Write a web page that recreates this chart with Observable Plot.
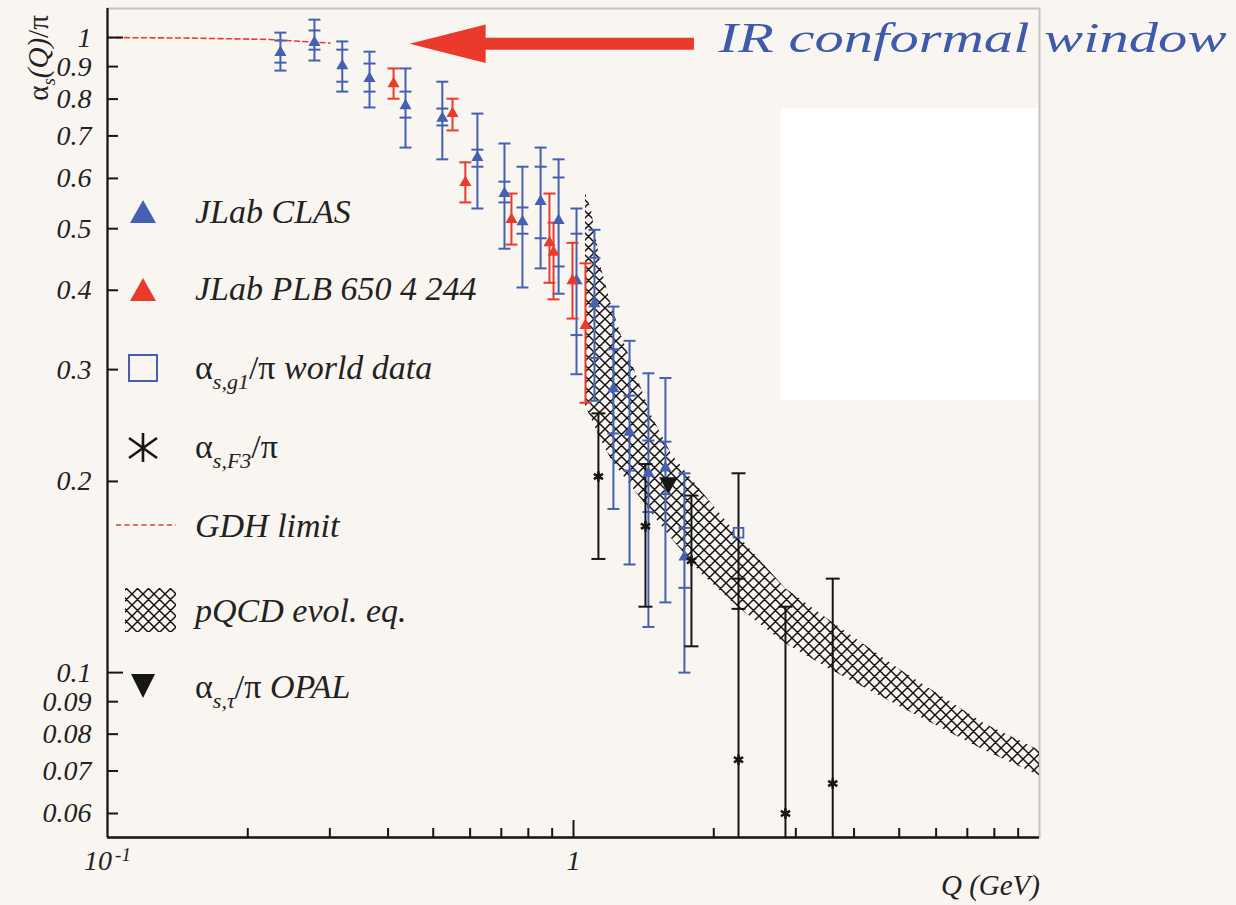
<!DOCTYPE html>
<html><head><meta charset="utf-8">
<script src="https://cdn.jsdelivr.net/npm/d3@7"></script>
<script src="https://cdn.jsdelivr.net/npm/@observablehq/plot@0.6"></script>
<style>
html,body{margin:0;padding:0;background:#f9f6f1;}
#wrap{position:relative;width:1236px;height:905px;overflow:hidden;}
</style></head>
<body><div id="wrap"></div>
<script>
// ---------- data ----------
// JLab CLAS (blue triangles): Q, value, outer error (hi/lo), inner error (hi/lo)
const clasQ   = [0.235,0.278,0.319,0.365,0.436,0.523,0.622,0.711,0.777,0.850,0.929,1.015,1.109,1.218,1.319,1.448,1.575,1.730];
const clasA   = [0.947,0.982,0.903,0.862,0.781,0.746,0.647,0.568,0.513,0.552,0.515,0.414,0.381,0.280,0.239,0.206,0.210,0.152];
const clasHi  = [1.018,1.067,0.986,0.950,0.894,0.852,0.759,0.681,0.626,0.671,0.643,0.538,0.498,0.377,0.333,0.296,0.291,0.206];
const clasLo  = [0.887,0.920,0.822,0.776,0.671,0.643,0.538,0.465,0.404,0.433,0.395,0.295,0.268,0.181,0.148,0.118,0.129,0.100];
const clasHiS = [0.989,1.026,0.957,0.910,0.822,0.773,0.666,0.593,0.540,0.626,0.602,0.491,0.450,0.323,0.273,0.232,0.231,0.169];
const clasLoS = [0.913,0.957,0.852,0.822,0.748,0.727,0.626,0.550,0.491,0.483,0.436,0.340,0.313,0.238,0.208,0.179,0.191,0.136];
// JLab PLB 650 4 244 (red triangles)
const plbQ  = [0.411,0.550,0.586,0.736,0.888,0.906,0.995,1.061];
const plbA  = [0.846,0.759,0.591,0.517,0.475,0.459,0.414,0.352];
const plbHi = [0.894,0.801,0.636,0.568,0.568,0.511,0.475,0.441];
const plbLo = [0.801,0.714,0.550,0.472,0.411,0.387,0.361,0.266];
// alpha_s,F3 / pi (black asterisks)
const f3Q   = [1.131,1.427,1.791,2.26,2.85,3.60];
const f3A   = [0.2036,0.170,0.150,0.0729,0.060,0.0669];
const f3Hi  = [0.256,0.213,0.190,0.206,0.127,0.1406];
const f3Lo  = [0.151,0.127,0.110,0.045,0.045,0.045];
const f3InHi = [null,null,null,0.1406,null,null];
const f3InLo = [null,null,null,0.126,null,null];
// alpha_s,g1 world data (open square)
const worldQ = [2.26];
const worldA = [0.166];
// OPAL (down triangle)
const opalQ = [1.599];
const opalA = [0.199];
// GDH limit (red dashed)
const gdhQ = [0.1,0.15,0.222,0.30];
const gdhA = [1.0,0.998,0.993,0.980];
// pQCD evolution band
const bandQ  = [1.061,1.093,1.148,1.207,1.268,1.365,1.470,1.623,1.882,2.260,2.850,3.596,5.058,7.62,10.0];
const bandHi = [0.570,0.534,0.433,0.378,0.339,0.294,0.254,0.221,0.193,0.164,0.1356,0.1199,0.1007,0.0831,0.0754];
const bandLo = [0.263,0.251,0.232,0.216,0.206,0.192,0.1786,0.1626,0.1432,0.1266,0.1111,0.1007,0.0881,0.0754,0.0688];
// annotation
const arrowQ = [0.445, 1.818];
const arrowA = [0.978];
const annotQ = [2.047];
const annotA = [0.996];
const annotText = ["IR conformal window"];
const whiteQ = [2.795, 10.0];
const whiteA = [0.268, 0.773];
// ticks
const xMinor = [0.2,0.3,0.4,0.5,0.6,0.7,0.8,0.9,2,3,4,5,6,7,8,9];
const xMajor = [1];
const xLabels = [0.1, 1];
const yLabels = [1,0.9,0.8,0.7,0.6,0.5,0.4,0.3,0.2,0.1,0.09,0.08,0.07,0.06];
const yMajor = [1, 0.1];
const yMinor = yLabels.filter(v => v !== 1 && v !== 0.1);
// legend
const legendLabels = ["JLab CLAS", "JLab PLB 650 4 244", "world data", "", "GDH limit", "pQCD evol. eq.", "OPAL"];

// ---------- styling ----------
const blue = "#4560b3", red = "#ea3a2b", ink = "#161616";
const serif = "'Liberation Serif', 'Times New Roman', serif";

const hbar = {draw(ctx, size) { const w = Math.sqrt(size / Math.PI); ctx.moveTo(-w, 0); ctx.lineTo(w, 0); }};
const arrowHead = {draw(ctx, size) { const s = Math.sqrt(size / Math.PI); ctx.moveTo(0, 0); ctx.lineTo(s, -0.253 * s); ctx.lineTo(s, 0.253 * s); ctx.closePath(); }};

const clas = clasQ.map((q, i) => ({q, a: clasA[i], hi: clasHi[i], lo: clasLo[i], his: clasHiS[i], los: clasLoS[i]}));
const plb = plbQ.map((q, i) => ({q, a: plbA[i], hi: plbHi[i], lo: plbLo[i]}));
const f3 = f3Q.map((q, i) => ({q, a: f3A[i], hi: f3Hi[i], lo: f3Lo[i], ih: f3InHi[i], il: f3InLo[i]}));
const band = bandQ.map((q, i) => ({q, lo: bandLo[i], hi: bandHi[i]}));
const gdh = gdhQ.map((q, i) => ({q, a: gdhA[i]}));

function errorMarks(data, color, r, extra = {}) {
  return [
    Plot.ruleX(data, {x: "q", y1: "lo", y2: "hi", stroke: color, strokeWidth: 2, ...extra}),
    Plot.dot(data, {x: "q", y: "hi", symbol: hbar, r, stroke: color, fill: "none", strokeWidth: 2, ...extra}),
    Plot.dot(data, {x: "q", y: "lo", symbol: hbar, r, stroke: color, fill: "none", strokeWidth: 2, ...extra})
  ];
}

const svg = Plot.plot({
  width: 1236, height: 905,
  marginLeft: 107, marginRight: 197, marginTop: 8, marginBottom: 68,
  x: {type: "log", domain: [0.1, 10]},
  y: {type: "log", domain: [0.055, 1.111]},
  style: {fontFamily: serif, fontStyle: "italic", fontSize: "28px", background: "transparent", color: "#222"},
  marks: [
    Plot.rect([0], {x1: whiteQ[0], x2: whiteQ[1], y1: whiteA[0], y2: whiteA[1], fill: "white"}),
    Plot.frame({stroke: "#c4c4c4", strokeWidth: 2}),
    Plot.areaY(band, {x: "q", y1: "lo", y2: "hi", fill: "url(#xhatch)"}),
    Plot.line(gdh, {x: "q", y: "a", stroke: red, strokeWidth: 1.6, strokeDasharray: "5,3.5"}),
    Plot.ruleY(arrowA, {x1: arrowQ[0] * 1.35, x2: arrowQ[1], stroke: red, strokeWidth: 12}),
    Plot.dot(arrowA, {x: arrowQ[0], y: d => d, symbol: arrowHead, r: 76, fill: red, stroke: "none"}),
    Plot.text(annotText, {x: annotQ, y: annotA, text: d => d, textAnchor: "start", fontSize: 42, fill: "#3f5aab", fontFamily: serif, fontStyle: "italic"}),
    // blue CLAS errors (outer + inner)
    ...errorMarks(clas, blue, 6),
    Plot.dot(clas, {x: "q", y: "his", symbol: hbar, r: 6, stroke: blue, fill: "none", strokeWidth: 2}),
    Plot.dot(clas, {x: "q", y: "los", symbol: hbar, r: 6, stroke: blue, fill: "none", strokeWidth: 2}),
    // red PLB errors
    ...errorMarks(plb, red, 6),
    // black F3 errors
    ...errorMarks(f3, ink, 7, {clip: true}),
    Plot.dot(f3, {x: "q", y: "ih", symbol: hbar, r: 7, stroke: ink, fill: "none", strokeWidth: 2}),
    Plot.dot(f3, {x: "q", y: "il", symbol: hbar, r: 7, stroke: ink, fill: "none", strokeWidth: 2}),
    // points
    Plot.dot(clas, {x: "q", y: "a", symbol: "triangle", r: 4.5, fill: blue, stroke: "none"}),
    Plot.dot(plb, {x: "q", y: "a", symbol: "triangle", r: 4.5, fill: red, stroke: "none"}),
    Plot.dot(f3, {x: "q", y: "a", symbol: "asterisk", r: 5, stroke: ink, strokeWidth: 2.6}),
    Plot.dot(worldQ, {x: d => d, y: (d, i) => worldA[i], symbol: "square", r: 5.5, stroke: blue, fill: "none", strokeWidth: 1.8}),
    Plot.dot(opalQ, {x: d => d, y: (d, i) => opalA[i], symbol: "triangle", rotate: 180, r: 7, fill: ink, stroke: "none"}),
    // axes
    Plot.ruleX([0.1], {stroke: ink, strokeWidth: 2.2}),
    Plot.ruleY([0.055], {stroke: ink, strokeWidth: 2.4}),
    Plot.axisY({ticks: yMinor, tickSize: -11, tickFormat: () => "", label: null, stroke: ink, strokeWidth: 2}),
    Plot.axisY({ticks: yMajor, tickSize: -16, tickFormat: () => "", label: null, stroke: ink, strokeWidth: 2}),
    Plot.text(yLabels, {y: d => d, frameAnchor: "left", dx: -16, textAnchor: "end", text: d => String(d), fill: "#222"}),
    Plot.axisX({ticks: xMinor, tickSize: -9, tickFormat: () => "", label: null, stroke: ink, strokeWidth: 2}),
    Plot.axisX({ticks: xMajor, tickSize: -17, tickFormat: () => "", label: null, stroke: ink, strokeWidth: 2}),
    Plot.text(xLabels, {x: d => d, frameAnchor: "bottom", dy: 32, text: d => d < 0.5 ? "10^-1" : "1", fill: "#222"})
  ]
});
document.getElementById("wrap").appendChild(svg);

const S = d3.select(svg);
// hatch pattern
const defs = S.insert("defs", ":first-child");
const P = 11;
const pat = defs.append("pattern").attr("id", "xhatch").attr("patternUnits", "userSpaceOnUse").attr("width", P).attr("height", P);
pat.append("path").attr("d", `M0,0L${P},${P}M${P},0L0,${P}M-2,${P-2}L2,${P+2}M${P-2},-2L${P+2},2M-2,2L2,-2M${P-2},${P+2}L${P+2},${P-2}`)
  .attr("stroke", "#141414").attr("stroke-width", 1.5).attr("fill", "none");

// superscript in 10^-1 label
S.selectAll("text").filter(function() { return this.textContent === "10^-1"; }).each(function() {
  const t = d3.select(this); t.text("10");
  t.append("tspan").attr("dy", "-0.45em").attr("dx", "3").attr("font-size", "19px").text("-1");
});
// stretch the annotation to its width
S.selectAll("text").filter(function() { return this.textContent === annotText[0]; })
  .attr("textLength", 508).attr("lengthAdjust", "spacingAndGlyphs");

// axis titles
const yt = S.append("text").attr("transform", "translate(48,58) rotate(-90)").attr("text-anchor", "middle")
  .attr("font-family", serif).attr("font-size", 29).attr("fill", "#222");
yt.append("tspan").attr("font-style", "normal").text("α");
yt.append("tspan").attr("dy", 7).attr("font-size", 19).attr("font-style", "italic").text("s");
yt.append("tspan").attr("dy", -7).attr("font-style", "italic").text("(Q)");
yt.append("tspan").attr("font-style", "normal").text("/π");
S.append("text").attr("x", 1040).attr("y", 895).attr("text-anchor", "end").attr("font-family", serif)
  .attr("font-style", "italic").attr("font-size", 29).attr("fill", "#222").text("Q (GeV)");

// legend
const L = S.append("g").attr("font-family", serif).attr("font-size", 34).attr("fill", "#222").attr("text-anchor", "start");
const lx = 143, tx = 195;
const rows = [212, 290, 368, 448, 525, 610, 686];
L.append("path").attr("d", `M${lx},${rows[0]-12}L${lx+13},${rows[0]+11}L${lx-13},${rows[0]+11}Z`).attr("fill", blue);
L.append("path").attr("d", `M${lx},${rows[1]-12}L${lx+13},${rows[1]+11}L${lx-13},${rows[1]+11}Z`).attr("fill", red);
L.append("rect").attr("x", lx-14).attr("y", rows[2]-13).attr("width", 28).attr("height", 26).attr("fill", "none").attr("stroke", blue).attr("stroke-width", 2);
L.append("path").attr("d", `M${lx},${rows[3]-15}V${rows[3]+14}M${lx-14},${rows[3]-10}L${lx+14},${rows[3]+10}M${lx-14},${rows[3]+10}L${lx+14},${rows[3]-10}`).attr("stroke", ink).attr("stroke-width", 2.6);
L.append("line").attr("x1", 116).attr("x2", 176).attr("y1", rows[4]).attr("y2", rows[4]).attr("stroke", red).attr("stroke-width", 1.6).attr("stroke-dasharray", "5,3.5");
L.append("rect").attr("x", 125).attr("y", rows[5]-22).attr("width", 51).attr("height", 44).attr("fill", "url(#xhatch)");
L.append("path").attr("d", `M${lx},${rows[6]+12}L${lx+12},${rows[6]-12}L${lx-12},${rows[6]-12}Z`).attr("fill", ink);

function alphaLabel(y, sub, rest) {
  const t = L.append("text").attr("x", tx).attr("y", y);
  t.append("tspan").attr("font-style", "normal").text("α");
  t.append("tspan").attr("dy", 10).attr("font-size", 22).attr("font-style", "italic").text(sub);
  t.append("tspan").attr("dy", -10).attr("font-style", "normal").text("/π");
  if (rest) t.append("tspan").attr("font-style", "italic").text(" " + rest);
}
const base = [223, 300, 379, 458, 537, 622, 698];
L.append("text").attr("x", tx).attr("y", base[0]).attr("font-style", "italic").text(legendLabels[0]);
L.append("text").attr("x", tx).attr("y", base[1]).attr("font-style", "italic").text(legendLabels[1]);
alphaLabel(base[2], "s,g1", legendLabels[2]);
alphaLabel(base[3], "s,F3", null);
L.append("text").attr("x", tx).attr("y", base[4]).attr("font-style", "italic").text(legendLabels[4]);
L.append("text").attr("x", tx).attr("y", base[5]).attr("font-style", "italic").text(legendLabels[5]);
alphaLabel(base[6], "s,τ", legendLabels[6]);
</script></body></html>
